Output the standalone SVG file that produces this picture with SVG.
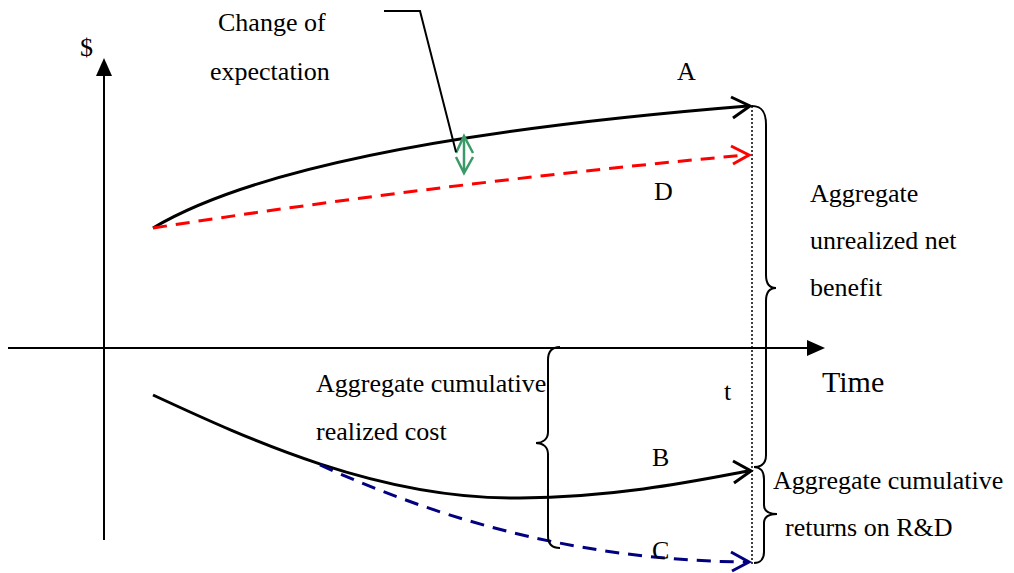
<svg xmlns="http://www.w3.org/2000/svg" width="1014" height="573" viewBox="0 0 1014 573">
<defs>
<style>
.t{font-family:'Liberation Serif','Times New Roman',Times,serif;font-size:26px;fill:#000}
.ax{stroke:#000;stroke-width:2;fill:none}
.crv{stroke:#000;stroke-width:3;fill:none}
.red{stroke:#ff0000;stroke-width:3;fill:none;stroke-dasharray:14,9}
.blue{stroke:#000080;stroke-width:3;fill:none;stroke-dasharray:14,9}
.br{stroke:#000;stroke-width:2;fill:none}
.grn{stroke:#3a9a68;stroke-width:2.5;fill:none}
</style>
</defs>
<rect width="1014" height="573" fill="#fff"/>
<g id="axes">
<line class="ax" x1="104" y1="540" x2="104" y2="74"/>
<polygon points="104,58 96,76 112,76" fill="#000"/>
<line class="ax" x1="8" y1="348" x2="808" y2="348"/>
<polygon points="825,348 807,340 807,356" fill="#000"/>
<line x1="752" y1="106" x2="752" y2="566" stroke="#000" stroke-width="1.5" stroke-dasharray="2,2"/>
</g>
<g id="connectors">
<path id="curveA" class="crv" d="M153,228 C250,170 450,130 748,106"/>
<polyline class="crv" points="731,97 750,106 733,118"/>
<path id="curveD" class="red" d="M153,228 Q450,182 746,155"/>
<polyline stroke="#ff0000" stroke-width="3" fill="none" points="731,146 749,155 733,164"/>
<path id="curveB" class="crv" d="M153,395 C250,440 380,500 520,498 C620,497 700,480 748,471"/>
<polyline class="crv" points="733,461 751,471 734,483"/>
<path id="curveC" class="blue" d="M320,465 C420,510 560,560 746,562"/>
<polyline stroke="#000080" stroke-width="3" fill="none" points="731,552 749,562 732,571"/>
<g id="change">
<line class="grn" x1="464" y1="137" x2="464" y2="172"/>
<polyline class="grn" points="456,153 464,136 473,153"/>
<polyline class="grn" points="456,157 464,173 473,157"/>
</g>
<polyline class="br" points="384,11 420,11 456,152"/>
</g>
<g id="braces">
<path class="br" d="M752,106 C762,106 766,112 766,125 L766,275 C766,284 770,288 776,288 C770,288 766,292 766,301 L766,455 C766,463 762,467 754,467"/>
<path class="br" d="M754,467 C760,467 764,471 764,479 L764,505 C764,511 769,514 777,514 C769,514 764,517 764,523 L764,552 C764,559 760,563 754,563"/>
<path class="br" d="M560,347 C552,347 548,351 548,360 L548,432 C548,439 543,443 536,443 C543,443 548,447 548,454 L548,536 C548,544 552,548 560,548"/>
</g>
<g id="labels" font-family="Liberation Serif, Times New Roman, serif" font-size="26">
<text class="t" x="80" y="56">$</text>
<text class="t" x="218" y="31">Change of</text>
<text class="t" x="210" y="80">expectation</text>
<text class="t" x="677" y="80">A</text>
<text class="t" x="654" y="200">D</text>
<text class="t" x="810" y="202">Aggregate</text>
<text class="t" x="810" y="249">unrealized net</text>
<text class="t" x="810" y="296">benefit</text>
<text class="t" x="316" y="392">Aggregate cumulative</text>
<text class="t" x="316" y="440">realized cost</text>
<text class="t" x="724" y="400">t</text>
<text class="t" x="822" y="392" style="font-size:30px">Time</text>
<text class="t" x="652" y="466">B</text>
<text class="t" x="773" y="489">Aggregate cumulative</text>
<text class="t" x="785" y="536">returns on R&amp;D</text>
<text class="t" x="652" y="559">C</text>
</g>
</svg>
